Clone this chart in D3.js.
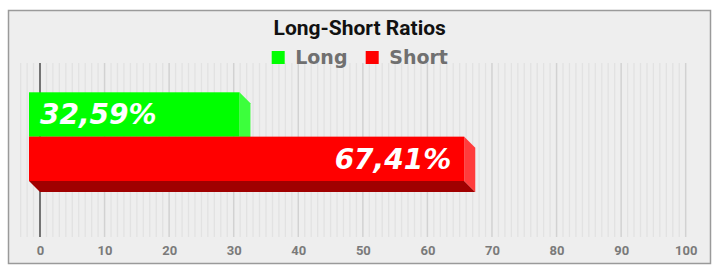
<!DOCTYPE html>
<html>
<head>
<meta charset="utf-8">
<script src="https://cdn.jsdelivr.net/npm/d3@7"></script>
<style>
  body { margin: 0; background: #fff; }
  svg { display: block; }
</style>
</head>
<body>
<div id="chart"></div>
<script>
// Data
var series = ["Long", "Short"]
var values = [32.59, 67.41]
var colors = ["#00ff00", "#ff0000"]
var sideColors = ["#3cff3c", "#ff3c3c"]
var bottomColors = ["#00a000", "#a00000"]
var xTicks = [0, 10, 20, 30, 40, 50, 60, 70, 80, 90, 100]

var W = 719, H = 275
var depth = 11  // 3d offset of the bars

var svg = d3.select("#chart").append("svg")
  .attr("width", W)
  .attr("height", H)

// Frame
svg.append("rect")
  .attr("x", 8.5).attr("y", 10.5)
  .attr("width", 702).attr("height", 253)
  .attr("fill", "#eeeeee")
  .attr("stroke", "#9a9a9a")
  .attr("stroke-width", 1.5)

// Scales (back wall)
var x = d3.scaleLinear().domain([0, 100]).range([40, 685.7])
var gridTop = 63, gridBottom = 237

// Bars are on the front plane, shifted by -depth
var y = d3.scaleBand().domain(series).range([92.3, 181])

// Minor grid
var minor = d3.range(-3, 100).filter(v => v % 10 != 0)
svg.append("g")
  .selectAll("line")
  .data(minor)
  .enter()
  .append("line")
  .attr("x1", d => x(d)).attr("x2", d => x(d))
  .attr("y1", gridTop).attr("y2", gridBottom)
  .attr("stroke", "#e2e2e2")
  .attr("stroke-width", 1.3)

// Major grid
svg.append("g")
  .selectAll("line")
  .data(xTicks.filter(v => v != 0))
  .enter()
  .append("line")
  .attr("x1", d => x(d)).attr("x2", d => x(d))
  .attr("y1", gridTop).attr("y2", gridBottom)
  .attr("stroke", "#d2d2d2")
  .attr("stroke-width", 1.5)

// Zero line
svg.append("line")
  .attr("x1", x(0)).attr("x2", x(0))
  .attr("y1", gridTop).attr("y2", gridBottom)
  .attr("stroke", "#222")
  .attr("stroke-width", 1.2)

// Axis
var xAxis = svg.append("g")
  .attr("transform", "translate(0," + gridBottom + ")")
  .call(d3.axisBottom(x).tickValues(xTicks).tickSize(0).tickPadding(9))
xAxis.select(".domain").remove()
xAxis.selectAll("text")
  .style("font-family", "Roboto")
  .style("font-weight", "bold")
  .style("font-size", "13px")
  .attr("fill", "#7a7a7a")

// 3D bars
var data = series.map((s, i) => ({name: s, value: values[i], i: i}))
var fmt = d3.formatLocale({decimal: ",", thousands: ".", grouping: [3], currency: ["", "%"]})
  .format(".2f")

var bars = svg.append("g")
  .selectAll("g")
  .data(data)
  .enter()
  .append("g")

function front(d) { return {x0: x(0) - depth, x1: x(d.value) - depth, y0: y(d.name), y1: y(d.name) + y.bandwidth()} }

// bottom face
bars.append("path")
  .attr("fill", d => bottomColors[d.i])
  .attr("d", function(d) {
    var f = front(d)
    return "M" + f.x0 + "," + f.y1 + "L" + f.x1 + "," + f.y1 +
      "L" + (f.x1 + depth) + "," + (f.y1 + depth) + "L" + (f.x0 + depth) + "," + (f.y1 + depth) + "Z"
  })
// side face
bars.append("path")
  .attr("fill", d => sideColors[d.i])
  .attr("d", function(d) {
    var f = front(d)
    return "M" + f.x1 + "," + f.y0 + "L" + (f.x1 + depth) + "," + (f.y0 + depth) +
      "L" + (f.x1 + depth) + "," + (f.y1 + depth) + "L" + f.x1 + "," + f.y1 + "Z"
  })
// front face
bars.append("rect")
  .attr("fill", d => colors[d.i])
  .attr("x", d => front(d).x0)
  .attr("y", d => front(d).y0)
  .attr("width", d => front(d).x1 - front(d).x0)
  .attr("height", y.bandwidth())

// Value labels
bars.append("text")
  .attr("x", d => d.i == 0 ? x(0) : x(d.value) - depth - 13)
  .attr("y", d => y(d.name) + y.bandwidth() / 2 + 10)
  .attr("text-anchor", d => d.i == 0 ? "start" : "end")
  .style("font-family", "DejaVu Sans")
  .style("font-weight", "bold")
  .style("font-style", "italic")
  .style("font-size", "28px")
  .attr("fill", "#fff")
  .text(d => fmt(d.value) + "%")

// Title
svg.append("text")
  .attr("x", 359.7).attr("y", 35)
  .attr("text-anchor", "middle")
  .style("font-family", "Roboto")
  .style("font-weight", "bold")
  .style("font-size", "21px")
  .attr("fill", "#111")
  .text("Long-Short Ratios")

// Legend
var legendX = [271.7, 365.7]
var legend = svg.append("g")
  .selectAll("g")
  .data(series)
  .enter()
  .append("g")
  .attr("transform", (d, i) => "translate(" + legendX[i] + ",51)")
legend.append("rect")
  .attr("width", 13).attr("height", 13)
  .attr("fill", (d, i) => colors[i])
legend.append("text")
  .attr("x", 23.5).attr("y", 12.5)
  .style("font-family", "DejaVu Sans")
  .style("font-weight", "bold")
  .style("font-size", "19px")
  .attr("fill", "#707070")
  .text(d => d)
</script>
</body>
</html>
